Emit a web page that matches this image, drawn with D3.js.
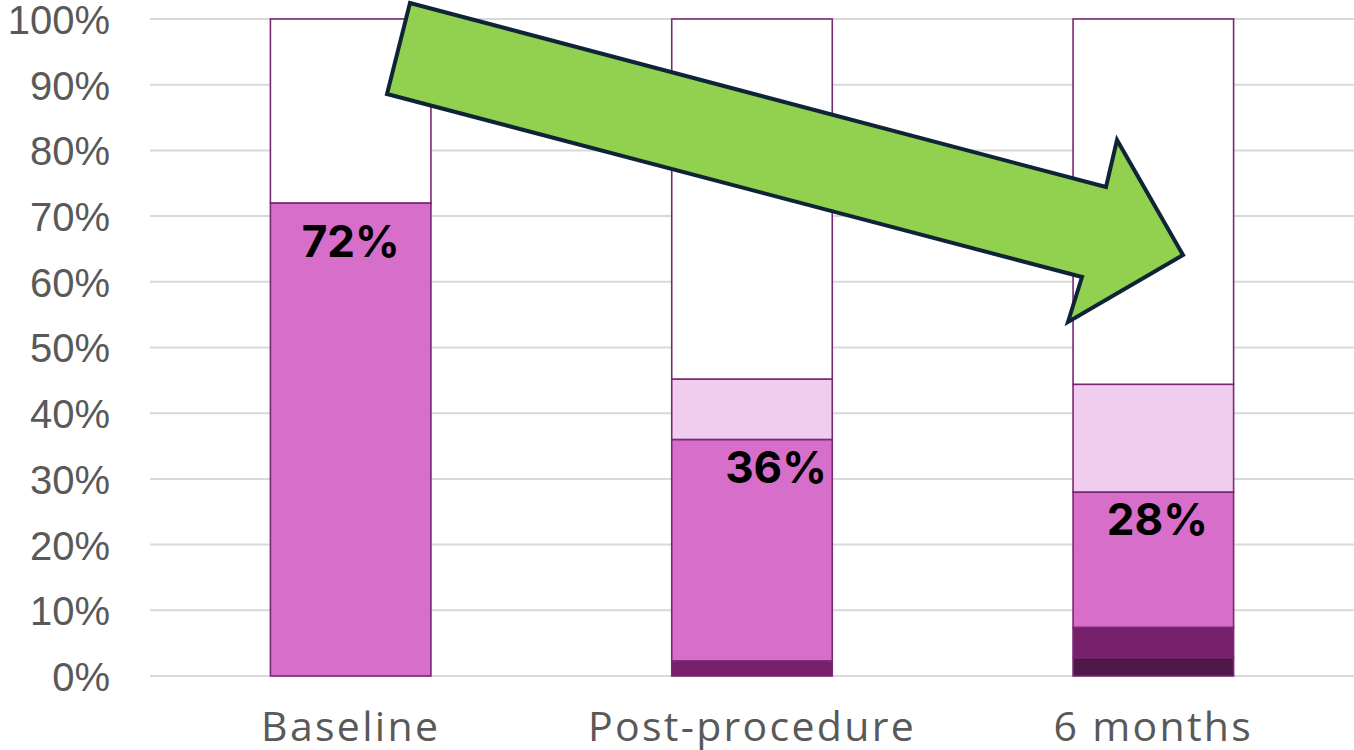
<!DOCTYPE html>
<html>
<head>
<meta charset="utf-8">
<script src="https://cdn.jsdelivr.net/npm/d3@7"></script>
<style>
  html, body { margin: 0; padding: 0; background: #ffffff; }
  svg { display: block; }
</style>
</head>
<body>
<svg id="chart" width="1354" height="750"></svg>
<script>
// Time points along the x axis
const categories = ["Baseline", "Post-procedure", "6 months"];

// Share of patients in each grade (percent), stacked from the bottom
const gradeSevere   = [0, 0, 2.8];
const gradeModerate = [0, 2.3, 4.6];
const gradeMild     = [72, 33.7, 20.6];
const gradeTrace    = [0, 9.2, 16.4];
const gradeNone     = [28, 54.8, 55.6];

// Cumulative values printed on the mild segment
const labelValues = [72, 36, 28];

// Y axis ticks
const yTicks = [0, 10, 20, 30, 40, 50, 60, 70, 80, 90, 100];

const seriesKeys = ["severe", "moderate", "mild", "trace", "none"];
const seriesColors = {
  severe: "#4e1747",
  moderate: "#761f6a",
  mild: "#d76ec9",
  trace: "#f0cdee",
  none: "#ffffff"
};

const rows = categories.map((c, i) => ({
  category: c,
  severe: gradeSevere[i],
  moderate: gradeModerate[i],
  mild: gradeMild[i],
  trace: gradeTrace[i],
  none: gradeNone[i]
}));

const svg = d3.select("#chart");
const W = 1354, H = 750;
const margin = { left: 150, right: 0, top: 19, bottom: 74 };

const x = d3.scaleBand()
  .domain(categories)
  .range([margin.left, W - margin.right])
  .paddingInner(0.6)
  .paddingOuter(0.3);

const y = d3.scaleLinear()
  .domain([0, 100])
  .range([H - margin.bottom, margin.top]);

// Horizontal gridlines
svg.append("g")
  .selectAll("line")
  .data(yTicks)
  .join("line")
  .attr("x1", margin.left)
  .attr("x2", W - margin.right)
  .attr("y1", d => y(d))
  .attr("y2", d => y(d))
  .attr("stroke", "#d9d9d9")
  .attr("stroke-width", 2);

// Y axis labels
const yAxis = d3.axisLeft(y)
  .tickValues(yTicks)
  .tickFormat(d => d + "%")
  .tickSize(0)
  .tickPadding(0);

svg.append("g")
  .attr("transform", `translate(110,0)`)
  .call(yAxis)
  .call(g => g.select(".domain").remove())
  .call(g => g.selectAll("text")
    .attr("fill", "#595959")
    .attr("font-family", "Liberation Sans, Arial, sans-serif")
    .attr("font-size", 40)
    .attr("dy", "0.36em"));

// X axis labels
const xAxis = d3.axisBottom(x).tickSize(0).tickPadding(0);
svg.append("g")
  .attr("transform", `translate(0,${H - margin.bottom})`)
  .call(xAxis)
  .call(g => g.select(".domain").remove())
  .call(g => g.selectAll("text")
    .attr("fill", "#595959")
    .attr("font-family", "Open Sans, sans-serif")
    .attr("font-size", 41)
    .attr("letter-spacing", 2.3)
    .attr("dy", 0)
    .attr("y", 65));

// Stacked bars
const stack = d3.stack().keys(seriesKeys);
const layers = stack(rows);

svg.append("g")
  .selectAll("g")
  .data(layers)
  .join("g")
  .attr("fill", d => seriesColors[d.key])
  .selectAll("rect")
  .data(d => d.filter(s => s[1] - s[0] > 0))
  .join("rect")
  .attr("x", d => x(d.data.category))
  .attr("width", x.bandwidth())
  .attr("y", d => y(d[1]))
  .attr("height", d => y(d[0]) - y(d[1]))
  .attr("stroke", "#7b2774")
  .attr("stroke-width", 1.6);

// Value labels, set just inside the top of the mild segment
const labelShiftX = [0, 24, 4];
const labelShiftY = [54, 44, 43];
svg.append("g")
  .selectAll("text")
  .data(labelValues)
  .join("text")
  .attr("x", (d, i) => x(categories[i]) + x.bandwidth() / 2 + labelShiftX[i])
  .attr("y", (d, i) => y(d) + labelShiftY[i])
  .attr("text-anchor", "middle")
  .attr("font-family", "Inter, sans-serif")
  .attr("font-weight", 700)
  .attr("font-size", 44)
  .attr("fill", "#000000")
  .text(d => d + "%");

// Trend arrow from baseline toward 6 months
const arrowPts = [
  [410, 3], [1106, 187], [1117, 140], [1183, 255],
  [1068, 322], [1082, 277], [387, 94]
];
svg.append("polygon")
  .attr("points", arrowPts.map(p => p.join(",")).join(" "))
  .attr("fill", "#92d050")
  .attr("stroke", "#0f2537")
  .attr("stroke-width", 4)
  .attr("stroke-linejoin", "miter");
</script>
</body>
</html>
